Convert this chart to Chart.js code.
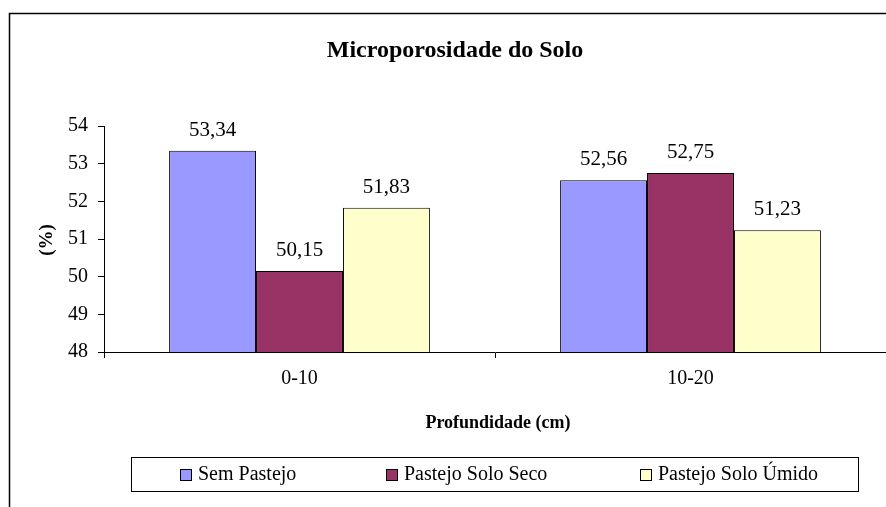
<!DOCTYPE html>
<html>
<head>
<meta charset="utf-8">
<script src="https://cdn.jsdelivr.net/npm/chart.js@4/dist/chart.umd.min.js"></script>
<style>
  body { margin: 0; background: #fff; }
  canvas { display: block; }
</style>
</head>
<body>
<canvas id="chart" width="886" height="507"></canvas>
<script>
// data
const categories = ["0-10", "10-20"];
const seriesNames = ["Sem Pastejo", "Pastejo Solo Seco", "Pastejo Solo Úmido"];
const semPastejo = [53.34, 52.56];
const soloSeco = [50.15, 52.75];
const soloUmido = [51.83, 51.23];
const yTicks = [48, 49, 50, 51, 52, 53, 54];

const colors = ["#9999FF", "#993366", "#FFFFCC"];
const serif = "'Liberation Serif', 'Times New Roman', serif";

// legend item x positions (square left edge)
const legendX = [180, 386, 640];

const decor = {
  id: "decor",
  beforeDraw(chart) {
    const ctx = chart.ctx;
    ctx.save();
    ctx.fillStyle = "#fff";
    ctx.fillRect(0, 0, chart.width, chart.height);
    ctx.strokeStyle = "#000";
    ctx.lineWidth = 1.5;
    ctx.strokeRect(9.5, 13.5, 1000, 1000);
    ctx.restore();
  },
  afterDraw(chart) {
    const ctx = chart.ctx;
    ctx.save();
    // title
    ctx.fillStyle = "#000";
    ctx.textAlign = "center";
    ctx.textBaseline = "middle";
    ctx.font = "bold 24px " + serif;
    ctx.fillText("Microporosidade do Solo", 455, 51);
    // x title
    ctx.font = "bold 18px " + serif;
    ctx.fillText("Profundidade (cm)", 498, 423);
    // y title
    ctx.save();
    ctx.translate(47, 240);
    ctx.rotate(-Math.PI / 2);
    ctx.font = "bold 19px " + serif;
    ctx.fillText("(%)", 0, 0);
    ctx.restore();

    // value labels
    ctx.font = "21px " + serif;
    ctx.textBaseline = "bottom";
    chart.data.datasets.forEach((ds, i) => {
      chart.getDatasetMeta(i).data.forEach((bar, j) => {
        const txt = ds.data[j].toFixed(2).replace(".", ",");
        ctx.fillText(txt, bar.x, bar.y - 10);
      });
    });

    // legend
    ctx.strokeStyle = "#000";
    ctx.lineWidth = 1;
    ctx.strokeRect(131.5, 457.5, 727, 34);
    ctx.textAlign = "left";
    ctx.textBaseline = "middle";
    ctx.font = "20px " + serif;
    chart.data.datasets.forEach((ds, i) => {
      const x = legendX[i];
      ctx.fillStyle = ds.backgroundColor;
      ctx.fillRect(x + 0.5, 469.5, 11, 11);
      ctx.strokeRect(x + 0.5, 469.5, 11, 11);
      ctx.fillStyle = "#000";
      ctx.fillText(ds.label, x + 18, 475);
    });
    ctx.restore();
  }
};

new Chart(document.getElementById("chart"), {
  type: "bar",
  data: {
    labels: categories,
    datasets: [
      { label: seriesNames[0], data: semPastejo, backgroundColor: colors[0] },
      { label: seriesNames[1], data: soloSeco, backgroundColor: colors[1] },
      { label: seriesNames[2], data: soloUmido, backgroundColor: colors[2] }
    ].map(d => Object.assign(d, {
      borderColor: "#000",
      borderWidth: 1,
      borderSkipped: false,
      categoryPercentage: 0.667,
      barPercentage: 1
    }))
  },
  options: {
    responsive: false,
    animation: false,
    layout: { padding: { left: 9, top: 126, right: 0, bottom: 105 } },
    plugins: {
      legend: { display: false },
      title: { display: false },
      tooltip: { enabled: false }
    },
    scales: {
      x: {
        afterFit(s) { s.height = 50; },
        grid: { offset: true, drawOnChartArea: false, drawTicks: true, tickLength: 6, color: "#000" },
        border: { color: "#000", width: 1 },
        ticks: { color: "#000", padding: 9, font: { family: serif, size: 20 } }
      },
      y: {
        min: yTicks[0],
        max: yTicks[yTicks.length - 1],
        afterFit(s) { s.width = 95; },
        afterBuildTicks(s) { s.ticks = yTicks.map(v => ({ value: v })); },
        grid: { drawOnChartArea: false, drawTicks: true, tickLength: 6, color: "#000" },
        border: { color: "#000", width: 1 },
        ticks: { color: "#000", padding: 10, font: { family: serif, size: 20 } }
      }
    }
  },
  plugins: [decor]
});
</script>
</body>
</html>
